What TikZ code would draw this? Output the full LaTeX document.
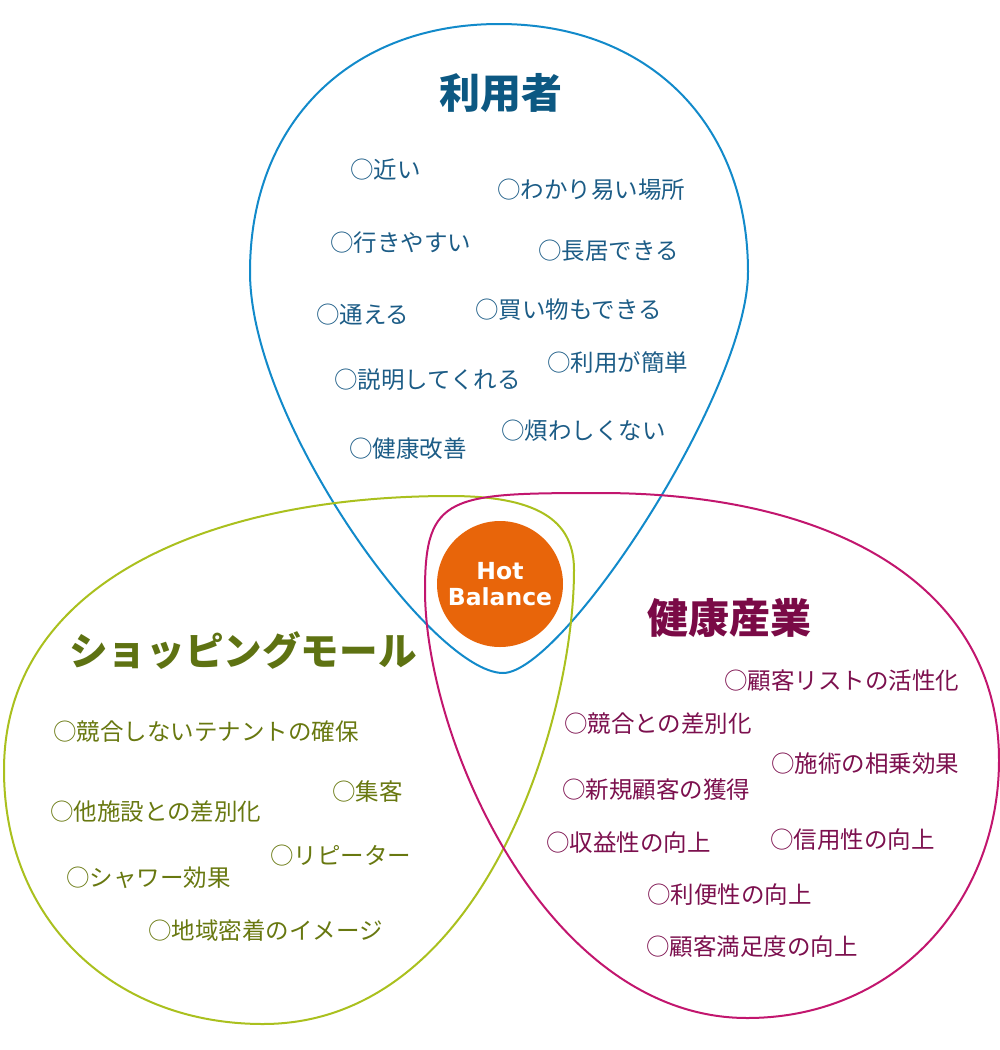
\documentclass[tikz,border=0pt]{standalone}
\usepackage{fontspec}
\newfontfamily\jp{Noto Sans CJK JP}
\newfontfamily\hb{DejaVu Sans}
\definecolor{blueline}{RGB}{18,138,202}
\definecolor{bluetitle}{RGB}{12,88,130}
\definecolor{bluetext}{RGB}{28,92,134}
\definecolor{greenline}{RGB}{170,192,30}
\definecolor{greentitle}{RGB}{94,114,18}
\definecolor{greentext}{RGB}{104,120,16}
\definecolor{magline}{RGB}{194,22,110}
\definecolor{magtitle}{RGB}{122,10,70}
\definecolor{magtext}{RGB}{124,16,78}
\definecolor{hotorange}{RGB}{232,101,10}
\tikzset{
  outline/.style={line width=2pt},
  item/.style={anchor=west, inner sep=0pt, font=\jp\fontsize{23.5}{28}\selectfont},
  title/.style={inner sep=0pt, font=\jp\bfseries\fontsize{41}{48}\selectfont},
}
\begin{document}
\begin{tikzpicture}[x=1pt,y=-1pt]
\useasboundingbox (0,0) rectangle (1000,1050);
% user teardrop
\draw[outline, blueline]
  (250,272) .. controls (250,123) and (350,24) .. (499,24)
  .. controls (648,24) and (748,123) .. (748,272)
  .. controls (748,392) and (563,673) .. (503,673)
  .. controls (433,673) and (250,422) .. cycle;
% shopping mall
\draw[outline, greenline]
  (4,770) .. controls (4,585) and (205,496) .. (450,496)
  .. controls (545,496) and (574,525) .. (574,570)
  .. controls (574,720) and (483,1024) .. (263,1024)
  .. controls (113,1024) and (4,920) .. cycle;
% health industry
\draw[outline, magline]
  (425,590) .. controls (425,495) and (450,493) .. (600,493)
  .. controls (840,493) and (999,590) .. (999,760)
  .. controls (999,900) and (897,1018) .. (747,1018)
  .. controls (547,1018) and (425,740) .. cycle;
% centre
\node[circle, fill=hotorange, minimum size=126pt, inner sep=0pt, text=white, align=center,
      font=\hb\bfseries\fontsize{23.5}{26}\selectfont] (hot) at (500,584) {Hot\\Balance};
% titles
\node[title, text=bluetitle] (tuser) at (501,93) {利用者};
\node[title, text=magtitle] (thealth) at (729,618) {健康産業};
\node[title, text=greentitle, font=\jp\bfseries\fontsize{38.6}{46}\selectfont] (tmall) at (243,651) {ショッピングモール};
% user items
\begin{scope}[every node/.append style={item, text=bluetext}]
\node (u1) at (350,170) {○近い};
\node (u2) at (497,190) {○わかり易い場所};
\node (u3) at (330,243) {○行きやすい};
\node (u4) at (538,251) {○長居できる};
\node (u5) at (316,315) {○通える};
\node (u6) at (475,310) {○買い物もできる};
\node (u7) at (334,380) {○説明してくれる};
\node (u8) at (547,363) {○利用が簡単};
\node (u9) at (349,449) {○健康改善};
\node (u10) at (501,431) {○煩わしくない};
\end{scope}
% mall items
\begin{scope}[every node/.append style={item, text=greentext}]
\node (m1) at (53,732) {○競合しないテナントの確保};
\node (m2) at (332,792) {○集客};
\node (m3) at (50,812) {○他施設との差別化};
\node (m4) at (270,856) {○リピーター};
\node (m5) at (66,878) {○シャワー効果};
\node (m6) at (148,931) {○地域密着のイメージ};
\end{scope}
% health items
\begin{scope}[every node/.append style={item, text=magtext}]
\node (h1) at (724,681) {○顧客リストの活性化};
\node (h2) at (564,724) {○競合との差別化};
\node (h3) at (771,764) {○施術の相乗効果};
\node (h4) at (562,790) {○新規顧客の獲得};
\node (h5) at (546,843) {○収益性の向上};
\node (h6) at (770,840) {○信用性の向上};
\node (h7) at (647,895) {○利便性の向上};
\node (h8) at (646,947) {○顧客満足度の向上};
\end{scope}
\end{tikzpicture}
\end{document}
